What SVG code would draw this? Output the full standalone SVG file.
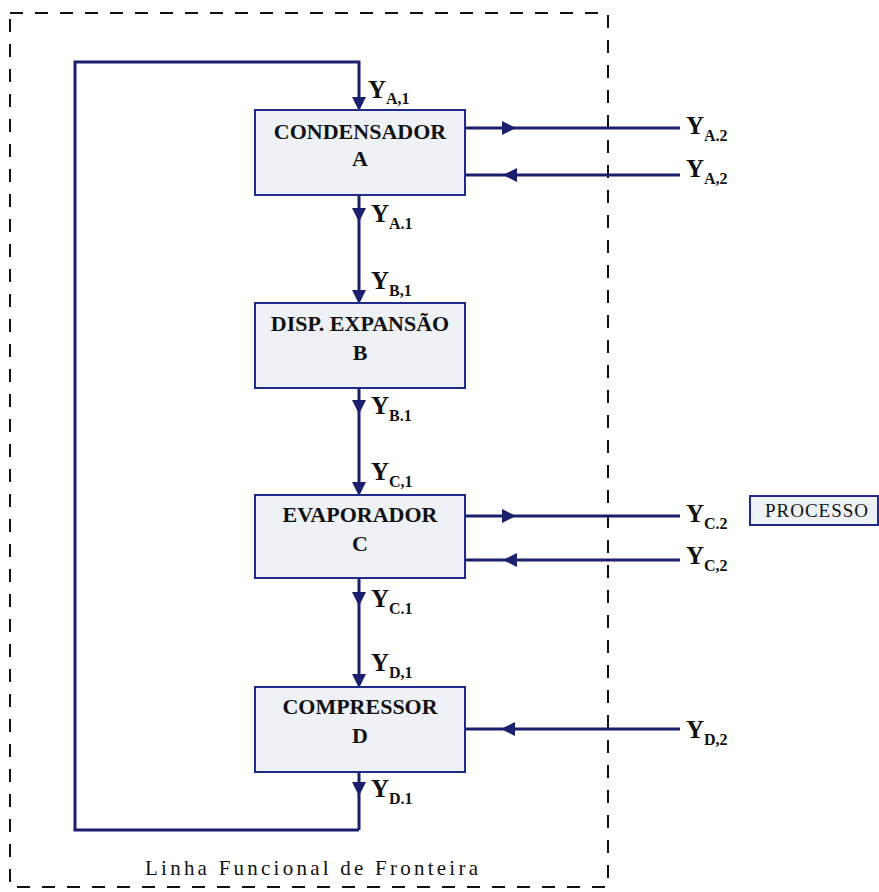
<svg xmlns="http://www.w3.org/2000/svg" width="879" height="892" viewBox="0 0 879 892">
<style>
.box{fill:#eef1f6;stroke:#1f2a8a;stroke-width:2}
.ln{fill:none;stroke:#1a1f6e;stroke-width:3}
.bnd{fill:none;stroke:#111;stroke-width:2;stroke-dasharray:13,12}
.t{font-family:"Liberation Serif",serif;font-weight:bold;font-size:22px;fill:#111;text-anchor:middle}
.y{font-family:"Liberation Serif",serif;font-weight:bold;font-size:25px;fill:#111}
.s{font-size:16px}
.r{font-family:"Liberation Serif",serif;font-size:21px;fill:#111}
</style>
<defs>
<path id="ar" d="M0,0 L-14,-7 L-14,7 Z" fill="#1a1f6e"/>
</defs>
<rect class="bnd" x="10" y="13" width="598" height="874"/>
<g id="connectors">
<path class="ln" d="M359,830 H75 V62 H359 V108"/>
<path class="ln" d="M359,195 V301"/>
<path class="ln" d="M359,388 V493"/>
<path class="ln" d="M359,578 V685"/>
<path class="ln" d="M359,772 V830"/>
<path class="ln" d="M465,128 H680"/>
<path class="ln" d="M465,175 H680"/>
<path class="ln" d="M465,516 H680"/>
<path class="ln" d="M465,560 H680"/>
<path class="ln" d="M465,729 H680"/>
<use href="#ar" transform="translate(359,111) rotate(90)"/>
<use href="#ar" transform="translate(359,222) rotate(90)"/>
<use href="#ar" transform="translate(359,304) rotate(90)"/>
<use href="#ar" transform="translate(359,414) rotate(90)"/>
<use href="#ar" transform="translate(359,496) rotate(90)"/>
<use href="#ar" transform="translate(359,606) rotate(90)"/>
<use href="#ar" transform="translate(359,688) rotate(90)"/>
<use href="#ar" transform="translate(359,796) rotate(90)"/>
<use href="#ar" transform="translate(516,128)"/>
<use href="#ar" transform="translate(503,175) rotate(180)"/>
<use href="#ar" transform="translate(516,516)"/>
<use href="#ar" transform="translate(503,560) rotate(180)"/>
<use href="#ar" transform="translate(501,729) rotate(180)"/>
</g>
<g id="nodeA"><rect class="box" x="255" y="110" width="210" height="85"/><text class="t" x="360" y="139">CONDENSADOR</text><text class="t" x="360" y="166">A</text></g>
<g id="nodeB"><rect class="box" x="255" y="303" width="210" height="85"/><text class="t" x="360" y="331">DISP. EXPANSÃO</text><text class="t" x="360" y="360">B</text></g>
<g id="nodeC"><rect class="box" x="255" y="495" width="210" height="83"/><text class="t" x="360" y="522">EVAPORADOR</text><text class="t" x="360" y="551">C</text></g>
<g id="nodeD"><rect class="box" x="255" y="687" width="210" height="85"/><text class="t" x="360" y="714">COMPRESSOR</text><text class="t" x="360" y="743">D</text></g>
<g id="processo"><rect class="box" x="750" y="496" width="128" height="29"/><text class="r" x="765" y="517" style="font-size:19px" textLength="103">PROCESSO</text></g>
<g id="labels">
<text class="y" x="368" y="98">Y<tspan class="s" dy="6">A,1</tspan></text>
<text class="y" x="371" y="222">Y<tspan class="s" dy="7">A.1</tspan></text>
<text class="y" x="371" y="289">Y<tspan class="s" dy="7">B,1</tspan></text>
<text class="y" x="371" y="414">Y<tspan class="s" dy="7">B.1</tspan></text>
<text class="y" x="371" y="480">Y<tspan class="s" dy="7">C,1</tspan></text>
<text class="y" x="371" y="607">Y<tspan class="s" dy="7">C.1</tspan></text>
<text class="y" x="371" y="671">Y<tspan class="s" dy="7">D,1</tspan></text>
<text class="y" x="371" y="797">Y<tspan class="s" dy="7">D.1</tspan></text>
<text class="y" x="686" y="134">Y<tspan class="s" dy="7">A.2</tspan></text>
<text class="y" x="686" y="177">Y<tspan class="s" dy="7">A,2</tspan></text>
<text class="y" x="686" y="522">Y<tspan class="s" dy="7">C.2</tspan></text>
<text class="y" x="686" y="564">Y<tspan class="s" dy="7">C,2</tspan></text>
<text class="y" x="686" y="738">Y<tspan class="s" dy="7">D,2</tspan></text>
<text class="r" x="145" y="875" textLength="333">Linha Funcional de Fronteira</text>
</g>
</svg>
